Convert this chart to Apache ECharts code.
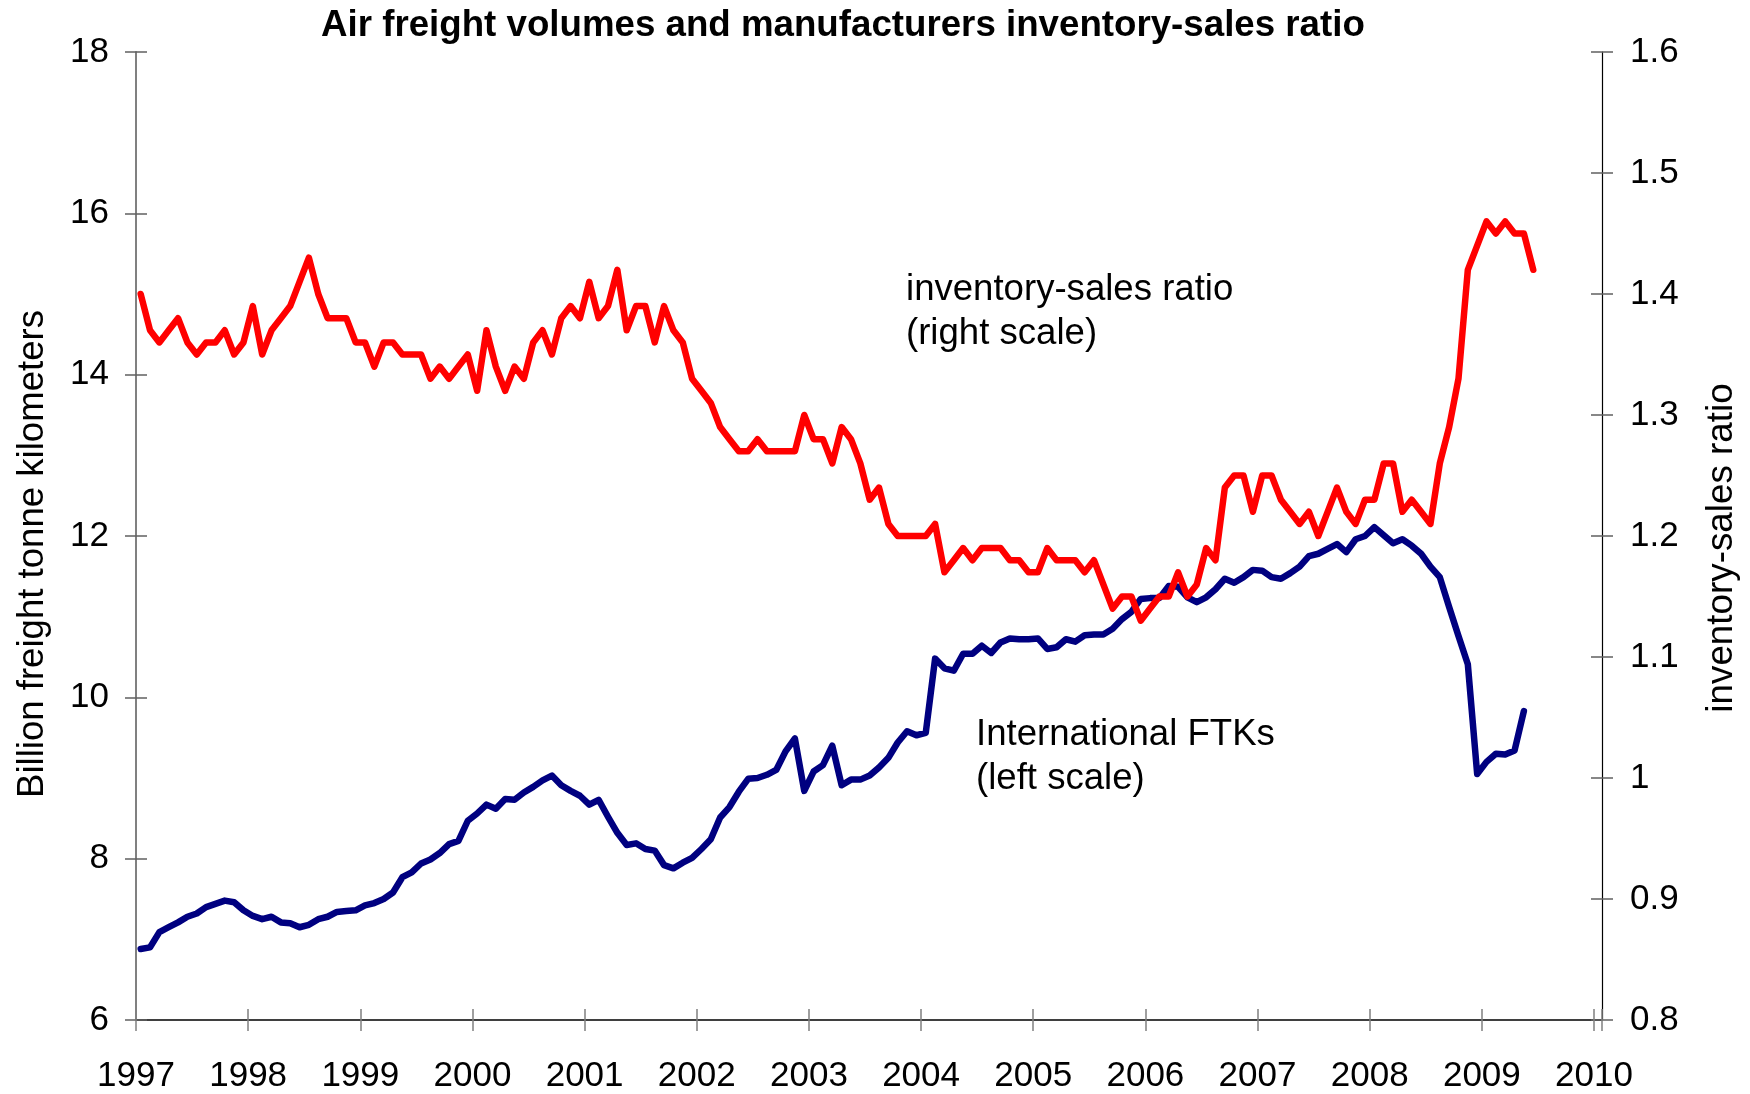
<!DOCTYPE html>
<html>
<head>
<meta charset="utf-8">
<title>Air freight volumes and manufacturers inventory-sales ratio</title>
<script src="https://cdn.jsdelivr.net/npm/echarts@6/dist/echarts.min.js"></script>
<style>
  html, body { margin: 0; padding: 0; background: #fff; }
  #chart { width: 1750px; height: 1094px; }
</style>
</head>
<body>
<div id="chart"></div>
<script>
// monthly observations, first month = Jan 1997
var startYear = 1997;
var years = ['1997', '1998', '1999', '2000', '2001', '2002', '2003', '2004', '2005', '2006', '2007', '2008', '2009', '2010'];

// International FTKs, billion freight tonne kilometers (left scale), Jan 1997 - May 2009
var ftk = [
	6.88, 6.90, 7.09, 7.15, 7.21, 7.28, 7.32, 7.40, 7.44, 7.48, 7.46, 7.36,
	7.29, 7.25, 7.28, 7.21, 7.20, 7.15, 7.18, 7.25, 7.28, 7.34, 7.35, 7.36,
	7.42, 7.45, 7.50, 7.58, 7.77, 7.83, 7.94, 7.99, 8.07, 8.18, 8.22, 8.47,
	8.56, 8.67, 8.62, 8.74, 8.73, 8.82, 8.89, 8.97, 9.03, 8.91, 8.84, 8.78,
	8.67, 8.73, 8.52, 8.32, 8.17, 8.19, 8.12, 8.10, 7.92, 7.88, 7.95, 8.01,
	8.12, 8.24, 8.51, 8.64, 8.83, 8.99, 9.00, 9.04, 9.10, 9.33, 9.49, 8.84,
	9.08, 9.16, 9.40, 8.91, 8.98, 8.98, 9.03, 9.13, 9.25, 9.44, 9.58, 9.53,
	9.56, 10.48, 10.36, 10.33, 10.54, 10.54, 10.64, 10.55, 10.68, 10.73, 10.72, 10.72,
	10.73, 10.60, 10.62, 10.72, 10.69, 10.77, 10.78, 10.78, 10.85, 10.97, 11.06, 11.22,
	11.23, 11.23, 11.38, 11.37, 11.24, 11.18, 11.24, 11.34, 11.47, 11.42, 11.49, 11.58,
	11.57, 11.49, 11.47, 11.54, 11.62, 11.75, 11.78, 11.84, 11.90, 11.80, 11.96, 12.00,
	12.11, 12.01, 11.91, 11.96, 11.88, 11.78, 11.62, 11.49, 11.12, 10.76, 10.41, 9.05,
	9.20, 9.30, 9.29, 9.34, 9.83
];

// manufacturers inventory-sales ratio (right scale), Jan 1997 - Jun 2009
var isRatio = [
	1.40, 1.37, 1.36, 1.37, 1.38, 1.36, 1.35, 1.36, 1.36, 1.37, 1.35, 1.36,
	1.39, 1.35, 1.37, 1.38, 1.39, 1.41, 1.43, 1.40, 1.38, 1.38, 1.38, 1.36,
	1.36, 1.34, 1.36, 1.36, 1.35, 1.35, 1.35, 1.33, 1.34, 1.33, 1.34, 1.35,
	1.32, 1.37, 1.34, 1.32, 1.34, 1.33, 1.36, 1.37, 1.35, 1.38, 1.39, 1.38,
	1.41, 1.38, 1.39, 1.42, 1.37, 1.39, 1.39, 1.36, 1.39, 1.37, 1.36, 1.33,
	1.32, 1.31, 1.29, 1.28, 1.27, 1.27, 1.28, 1.27, 1.27, 1.27, 1.27, 1.30,
	1.28, 1.28, 1.26, 1.29, 1.28, 1.26, 1.23, 1.24, 1.21, 1.20, 1.20, 1.20,
	1.20, 1.21, 1.17, 1.18, 1.19, 1.18, 1.19, 1.19, 1.19, 1.18, 1.18, 1.17,
	1.17, 1.19, 1.18, 1.18, 1.18, 1.17, 1.18, 1.16, 1.14, 1.15, 1.15, 1.13,
	1.14, 1.15, 1.15, 1.17, 1.15, 1.16, 1.19, 1.18, 1.24, 1.25, 1.25, 1.22,
	1.25, 1.25, 1.23, 1.22, 1.21, 1.22, 1.20, 1.22, 1.24, 1.22, 1.21, 1.23,
	1.23, 1.26, 1.26, 1.22, 1.23, 1.22, 1.21, 1.26, 1.29, 1.33, 1.42, 1.44,
	1.46, 1.45, 1.46, 1.45, 1.45, 1.42
];

var FONT = '"Liberation Sans", Arial, sans-serif';

// month i is plotted in the middle of its month
function toPoints(arr) {
	return arr.map(function(v, i) { return [startYear + (i + 0.5) / 12, v]; });
}

var myChart = echarts.init(document.getElementById('chart'));

var xMax = 2010 + 8 / 112.15; // plot frame runs a little past the 2010 tick

var option = {
	animation: false,
	backgroundColor: '#fff',
	textStyle: { fontFamily: FONT },
	title: {
		text: 'Air freight volumes and manufacturers inventory-sales ratio',
		left: 316,
		top: 2,
		textStyle: { fontSize: 36.7, fontWeight: 'bold', color: '#000', fontFamily: FONT }
	},
	grid: { left: 136, right: 148, top: 52, bottom: 72.5 },
	xAxis: [
		{
			type: 'value', min: 1997, max: xMax, interval: 1,
			position: 'bottom',
			axisLine: { show: true, lineStyle: { color: '#000', width: 1.5 } },
			axisTick: { show: true, length: 11, lineStyle: { color: '#808080', width: 1.5 } },
			axisLabel: {
				fontSize: 35, color: '#000', margin: 39,
				formatter: function(v) {
					var k = years.indexOf(String(v));
					return k >= 0 && Math.abs(v - Math.round(v)) < 1e-6 ? years[k] : '';
				}
			},
			splitLine: { show: false }
		},
		{
			type: 'value', min: 1997, max: xMax, interval: 1,
			position: 'bottom',
			axisLine: { show: false },
			axisTick: { show: true, inside: true, length: 11, lineStyle: { color: '#808080', width: 1.5 } },
			axisLabel: { show: false },
			splitLine: { show: false }
		}
	],
	yAxis: [
		{
			type: 'value', min: 6, max: 18, interval: 2,
			position: 'left',
			name: 'Billion freight tonne kilometers',
			nameLocation: 'middle', nameRotate: 90, nameGap: 85,
			nameTextStyle: { fontSize: 36.6, color: '#000', padding: [0, 36, 0, 0] },
			axisLine: { show: true, lineStyle: { color: '#808080', width: 2 } },
			axisTick: { show: true, length: 11, lineStyle: { color: '#606060', width: 1.5 } },
			axisLabel: { fontSize: 35, color: '#000', margin: 27 },
			splitLine: { show: false }
		},
		{
			type: 'value', min: 0.8, max: 1.6, interval: 0.1,
			position: 'right',
			name: 'inventory-sales ratio',
			nameLocation: 'middle', nameRotate: 90, nameGap: 101,
			nameTextStyle: { fontSize: 36.8, color: '#000', padding: [0, 24, 0, 0] },
			axisLine: { show: true, lineStyle: { color: '#000', width: 1.2 } },
			axisTick: { show: true, length: 11, lineStyle: { color: '#606060', width: 1.5 } },
			axisLabel: {
				fontSize: 35, color: '#000', margin: 28,
				formatter: function(v) { return String(+v.toFixed(1)); }
			},
			splitLine: { show: false }
		},
		{
			type: 'value', min: 6, max: 18, interval: 2,
			position: 'left',
			axisLine: { show: false },
			axisTick: { show: true, inside: true, length: 11, lineStyle: { color: '#606060', width: 1.5 } },
			axisLabel: { show: false },
			splitLine: { show: false }
		},
		{
			type: 'value', min: 0.8, max: 1.6, interval: 0.1,
			position: 'right',
			axisLine: { show: false },
			axisTick: { show: true, inside: true, length: 11, lineStyle: { color: '#606060', width: 1.5 } },
			axisLabel: { show: false },
			splitLine: { show: false }
		}
	],
	graphic: [
		{
			type: 'text', x: 906, y: 268,
			style: { text: 'inventory-sales ratio\n(right scale)', font: '36.6px ' + FONT, fill: '#000', lineHeight: 44 }
		},
		{
			type: 'text', x: 976, y: 713,
			style: { text: 'International FTKs\n(left scale)', font: '36.6px ' + FONT, fill: '#000', lineHeight: 44 }
		}
	],
	series: [
		{
			name: 'International FTKs',
			type: 'line',
			xAxisIndex: 0, yAxisIndex: 0,
			data: toPoints(ftk),
			showSymbol: false,
			z: 2,
			lineStyle: { color: '#000080', width: 6.5, cap: 'round', join: 'round' },
			itemStyle: { color: '#000080' }
		},
		{
			name: 'inventory-sales ratio',
			type: 'line',
			xAxisIndex: 0, yAxisIndex: 1,
			data: toPoints(isRatio),
			showSymbol: false,
			z: 3,
			lineStyle: { color: '#ff0000', width: 6.5, cap: 'round', join: 'round' },
			itemStyle: { color: '#ff0000' }
		}
	]
};

myChart.setOption(option);
</script>
</body>
</html>
